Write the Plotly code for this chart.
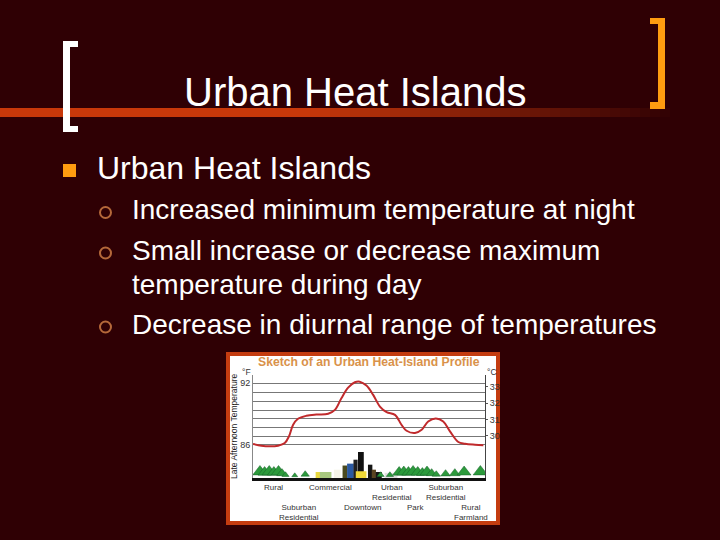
import plotly.graph_objects as go

# slide text
title_text = "Urban Heat Islands"
bullet_text = "Urban Heat Islands"
sub_lines = [
    "Increased minimum temperature at night",
    "Small increase or decrease maximum",
    "temperature during day",
    "Decrease in diurnal range of temperatures",
]

# inset chart: temperature profile across the town
distance = [0, 3.6, 7.2, 10.8, 13.7, 15.5, 17.3, 19.4, 23, 27.3, 32.4, 35.3, 38.1, 41, 43.9, 46,
            48.9, 51.8, 54.7, 57.6, 61.2, 64, 66.2, 69.8, 72.7, 75.5, 78.8, 82, 84.9, 88.5, 91.4, 95.7, 99.3]
temp_f = [86.06, 85.9, 85.84, 85.9, 86.16, 86.8, 87.92, 88.49, 88.78, 88.9, 88.97, 89.35, 90.47, 91.49, 92, 92.06,
          91.68, 90.79, 89.67, 89.13, 88.87, 87.92, 87.34, 87.12, 87.44, 88.23, 88.52, 88.23, 87.28, 86.26, 86.1, 86, 85.94]
grid_f = [85.99, 86.83, 87.66, 88.5, 89.33, 90.17, 91, 91.9, 92.64]
grid_labels = ["86", "", "", "", "", "", "", "92", ""]
c_ticks = [33, 32, 31, 30]

# buildings
build_x = [36.3, 39.6, 42, 44.2, 46.5, 46.6, 50.5, 52.1, 28.4, 31.3, 54.2, 59.5]
build_w = [2.9, 2, 2.9, 1.8, 2.5, 4.6, 1.9, 1.8, 2.8, 5, 2.6, 5.5]
build_top = [83.6, 84, 84.18, 84.56, 85.3, 83.45, 84.08, 83.6, 83.38, 83.38, 83.38, 83.3]
build_col = ["#f4f4e8", "#4a4a20", "#2a58a0", "#202020", "#101010", "#f0d838", "#151515", "#5a4420",
             "#e8d840", "#a8c880", "#151515", "#e0e0e0"]

# trees
tree_x = [3, 5, 7, 9, 11, 12.5, 14, 18, 22.5, 55, 59, 63, 65, 67, 69, 71, 73, 75, 77, 79, 83, 87, 91, 98]
tree_top = [84, 83.9, 84, 83.9, 84, 83.7, 83.4, 83.3, 83.5, 83.4, 83.4, 83.9, 83.95, 83.9, 84, 83.9,
            83.8, 83.95, 83.7, 83.5, 83.6, 83.7, 83.95, 84]

# place labels under the chart
place_names = ["Rural", "Commercial", "Urban<br>Residential", "Suburban<br>Residential",
               "Suburban<br>Residential", "Downtown", "Park", "Rural<br>Farmland"]
place_x = [9, 33.5, 60, 83, 20, 47, 70, 94]

base_f = 82.8
BG = "#2f0004"
ORANGE = "#ff9c10"
RUST = "#c8380a"


def px(x):
    return x / 720


def py(y):
    return 1 - y / 540


def rect(x0, y0, x1, y1, color, layer="below"):
    return dict(type="rect", xref="paper", yref="paper", x0=px(x0), x1=px(x1), y0=py(y0), y1=py(y1),
                fillcolor=color, line_width=0, layer=layer)


def label(text, x, y, size, color, xanchor="center", yanchor="middle", xref="paper", angle=0):
    return dict(text=text, xref=xref, yref="paper", x=x if xref != "paper" else px(x), y=py(y), showarrow=False,
                xanchor=xanchor, yanchor=yanchor, textangle=angle, font=dict(size=size, color=color))


def mix(t):
    # rust to background
    a = (200, 56, 10)
    b = (47, 0, 4)
    return "rgb(%d,%d,%d)" % tuple(round(a[i] + (b[i] - a[i]) * t) for i in range(3))


shapes = []
# rule under the title, fading out to the right
shapes.append(rect(0, 108, 300, 117, RUST))
for i in range(38):
    shapes.append(rect(300 + i * 10, 108, 311 + i * 10, 117, mix(i / 37)))
# brackets
shapes += [rect(63, 41, 70, 132, "white"), rect(63, 41, 78, 47, "white"), rect(63, 126, 78, 132, "white")]
shapes += [rect(658, 18, 665, 109, ORANGE), rect(650, 18, 665, 24, ORANGE), rect(650, 102, 665, 109, ORANGE)]
# bullet
shapes.append(rect(63, 164, 76, 177, ORANGE))
# picture frame
shapes.append(rect(226, 352, 500, 525, "#c43c10"))
shapes.append(rect(230, 356, 496, 521, "white"))
# sub bullets
for cy in [212.5, 253, 327]:
    shapes.append(dict(type="circle", xref="paper", yref="paper", x0=px(100), x1=px(111), y0=py(cy - 5.5), y1=py(cy + 5.5),
                       line=dict(color="#b5683a", width=2), fillcolor="rgba(0,0,0,0)"))

fig = go.Figure()
fig.add_trace(go.Bar(x=build_x, y=[t - base_f for t in build_top], base=base_f, width=build_w,
                     marker=dict(color=build_col, line_width=0), xaxis="x", yaxis="y"))
fig.add_trace(go.Scatter(x=tree_x, y=[(t + base_f) / 2 for t in tree_top], mode="markers",
                         marker=dict(symbol="triangle-up", size=[(t - base_f) * 10.4 for t in tree_top],
                                     color="#2c9a3c", opacity=1, line=dict(color="#16602a", width=0.5)),
                         xaxis="x", yaxis="y"))
fig.add_trace(go.Scatter(x=distance, y=temp_f, mode="lines", line=dict(color="#c02a2c", width=2, shape="spline"),
                         xaxis="x", yaxis="y"))
# invisible trace so the right axis shows up
fig.add_trace(go.Scatter(x=[0], y=[c_ticks[0]], mode="markers", marker=dict(opacity=0), xaxis="x", yaxis="y2",
                         hoverinfo="skip"))

annotations = [
    label(title_text, 355, 92, 40, "white"),
    label(bullet_text, 95, 168, 32, "white", xanchor="left"),
]
for line, cy in zip(sub_lines, [210, 250, 284, 324]):
    annotations.append(label(line, 130, cy, 28, "white", xanchor="left"))

annotations.append(label("<b>Sketch of an Urban Heat-Island Profile</b>", 369, 362, 12.2, "#d9924a"))
annotations.append(label("Late Afternoon Temperature", 234, 427, 8.5, "#222222", angle=-90))
annotations.append(label("°F", 246, 372, 8.5, "#333333"))
annotations.append(label("°C", 492, 372, 8.5, "#333333"))
for i, (name, xv) in enumerate(zip(place_names, place_x)):
    annotations.append(label(name, xv, 481 if i < 4 else 501, 8, "#333333", yanchor="top", xref="x"))

fig.update_layout(
    width=720, height=540, margin=dict(l=0, r=0, t=0, b=0),
    paper_bgcolor=BG, plot_bgcolor="white", showlegend=False, barmode="overlay",
    font=dict(family="Liberation Sans"),
    shapes=shapes, annotations=annotations,
    xaxis=dict(domain=[px(253), px(485)], range=[0, 100], showgrid=False, showticklabels=False, ticks="",
               zeroline=False, showline=True, linecolor="#111111", linewidth=3, anchor="y"),
    yaxis=dict(domain=[py(478), py(375)], range=[base_f, 92.7], tickmode="array", tickvals=grid_f, ticktext=grid_labels,
               ticks="", tickfont=dict(size=9, color="#333333"), showgrid=True, gridcolor="#777777", gridwidth=1,
               zeroline=False, showline=True, linecolor="#888888", linewidth=1, anchor="x"),
    yaxis2=dict(domain=[py(478), py(375)], range=[27.43, 33.71], overlaying="y", side="right", anchor="x",
                tickmode="array", tickvals=c_ticks, ticks="outside", ticklen=2, tickcolor="#555555",
                tickfont=dict(size=9, color="#333333"), showgrid=False, zeroline=False, showline=True,
                linecolor="#444444", linewidth=1),
)

# page margin off so the slide fills the window
fig.write_html("out.html", config=dict(displayModeBar=False), post_script="document.body.style.margin='0';")
